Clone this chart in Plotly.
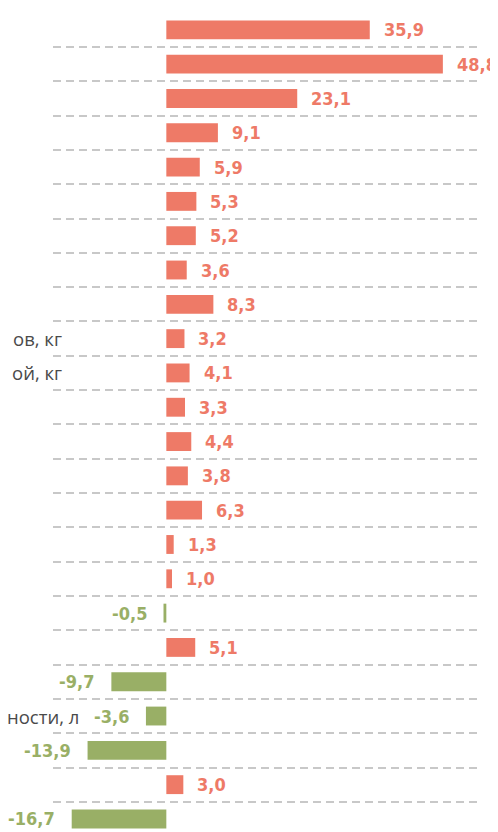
import plotly.graph_objects as go

# Data (top to bottom)
values = [35.9, 48.8, 23.1, 9.1, 5.9, 5.3, 5.2, 3.6, 8.3, 3.2, 4.1, 3.3,
          4.4, 3.8, 6.3, 1.3, 1.0, -0.5, 5.1, -9.7, -3.6, -13.9, 3.0, -16.7]
# Category labels (only fragments visible in the reference; the rest is cropped)
categories = ["", "", "", "", "", "", "", "", "", "ов, кг", "ой, кг", "",
              "", "", "", "", "", "", "", "", "ности, л", "", "", ""]

RED = "#EE7A67"
GREEN = "#99AF66"
positions = list(range(len(values)))
colors = [RED if v >= 0 else GREEN for v in values]

fig = go.Figure(
    go.Bar(
        x=values,
        y=positions,
        orientation="h",
        marker=dict(color=colors, line=dict(width=0)),
        width=0.55,
        hoverinfo="skip",
    )
)

num_font = "DejaVu Sans Condensed, Liberation Sans Narrow, sans-serif"
annotations = []
for i, v in enumerate(values):
    txt = f"{v:.1f}".replace(".", ",")
    annotations.append(dict(
        x=v, y=i, xref="x", yref="y", text=f"<b>{txt}</b>", showarrow=False,
        xanchor="left" if v >= 0 else "right",
        xshift=12 if v >= 0 else -15,
        font=dict(family=num_font, size=18, color=colors[i]),
    ))

# Category labels: right-aligned near the left edge (mostly cropped in reference)
for i, c in enumerate(categories):
    if not c:
        continue
    anchor_x = -15.0 if values[i] < 0 and abs(values[i]) < 5 else -18.1
    annotations.append(dict(
        x=anchor_x, y=i, xref="x", yref="y", text=c, showarrow=False,
        xanchor="right", yanchor="middle",
        font=dict(family="Open Sans, Noto Sans, sans-serif", size=18.5, color="#4a4a4a"),
    ))

# The page body adds an 8px offset, so the figure is 8px smaller than the window
fig.update_layout(
    width=490, height=824,
    margin=dict(l=45, r=20, t=4, b=0),
    paper_bgcolor="white", plot_bgcolor="white",
    showlegend=False,
    annotations=annotations,
    xaxis=dict(range=[-20, 55], showgrid=False, zeroline=False,
               showticklabels=False, ticks=""),
    yaxis=dict(range=[23.38, -0.52], tickmode="array",
               tickvals=[i - 0.5 for i in range(len(values) + 1)],
               showticklabels=False, ticks="", zeroline=False,
               showgrid=True, gridcolor="#c8c8c8", gridwidth=2,
               griddash="8px,5px"),
)

fig.write_html("out.html")
